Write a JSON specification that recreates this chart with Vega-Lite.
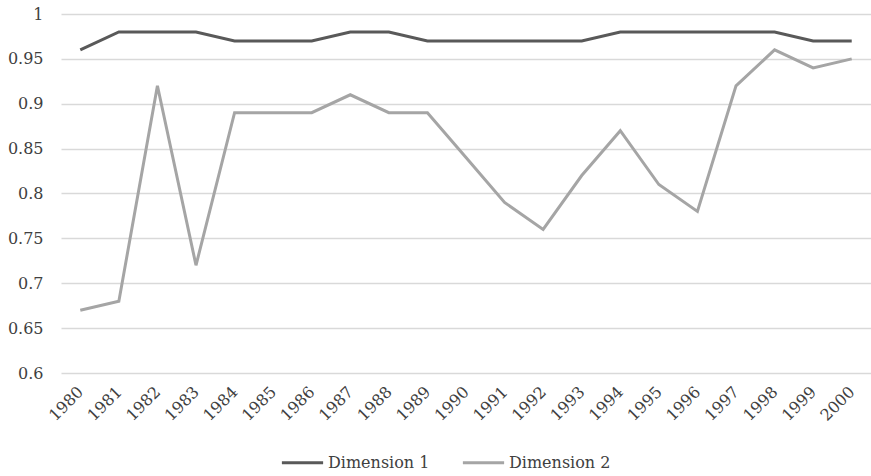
{
  "$schema": "https://vega.github.io/schema/vega-lite/v6.json",
  "width": 810,
  "height": 359,
  "autosize": "none",
  "padding": {"left": 61, "top": 14, "right": 0, "bottom": 103},
  "background": "white",
  "config": {
    "view": {"stroke": null},
    "font": "DejaVu Serif",
    "axis": {"labelFont": "DejaVu Serif", "labelColor": "#404040", "labelFontSize": 16},
    "legend": {"labelFont": "DejaVu Serif"}
  },
  "data": {
    "values": [
      {"year": "1980", "series": "Dimension 1", "value": 0.96},
      {"year": "1981", "series": "Dimension 1", "value": 0.98},
      {"year": "1982", "series": "Dimension 1", "value": 0.98},
      {"year": "1983", "series": "Dimension 1", "value": 0.98},
      {"year": "1984", "series": "Dimension 1", "value": 0.97},
      {"year": "1985", "series": "Dimension 1", "value": 0.97},
      {"year": "1986", "series": "Dimension 1", "value": 0.97},
      {"year": "1987", "series": "Dimension 1", "value": 0.98},
      {"year": "1988", "series": "Dimension 1", "value": 0.98},
      {"year": "1989", "series": "Dimension 1", "value": 0.97},
      {"year": "1990", "series": "Dimension 1", "value": 0.97},
      {"year": "1991", "series": "Dimension 1", "value": 0.97},
      {"year": "1992", "series": "Dimension 1", "value": 0.97},
      {"year": "1993", "series": "Dimension 1", "value": 0.97},
      {"year": "1994", "series": "Dimension 1", "value": 0.98},
      {"year": "1995", "series": "Dimension 1", "value": 0.98},
      {"year": "1996", "series": "Dimension 1", "value": 0.98},
      {"year": "1997", "series": "Dimension 1", "value": 0.98},
      {"year": "1998", "series": "Dimension 1", "value": 0.98},
      {"year": "1999", "series": "Dimension 1", "value": 0.97},
      {"year": "2000", "series": "Dimension 1", "value": 0.97},
      {"year": "1980", "series": "Dimension 2", "value": 0.67},
      {"year": "1981", "series": "Dimension 2", "value": 0.68},
      {"year": "1982", "series": "Dimension 2", "value": 0.92},
      {"year": "1983", "series": "Dimension 2", "value": 0.72},
      {"year": "1984", "series": "Dimension 2", "value": 0.89},
      {"year": "1985", "series": "Dimension 2", "value": 0.89},
      {"year": "1986", "series": "Dimension 2", "value": 0.89},
      {"year": "1987", "series": "Dimension 2", "value": 0.91},
      {"year": "1988", "series": "Dimension 2", "value": 0.89},
      {"year": "1989", "series": "Dimension 2", "value": 0.89},
      {"year": "1990", "series": "Dimension 2", "value": 0.84},
      {"year": "1991", "series": "Dimension 2", "value": 0.79},
      {"year": "1992", "series": "Dimension 2", "value": 0.76},
      {"year": "1993", "series": "Dimension 2", "value": 0.82},
      {"year": "1994", "series": "Dimension 2", "value": 0.87},
      {"year": "1995", "series": "Dimension 2", "value": 0.81},
      {"year": "1996", "series": "Dimension 2", "value": 0.78},
      {"year": "1997", "series": "Dimension 2", "value": 0.92},
      {"year": "1998", "series": "Dimension 2", "value": 0.96},
      {"year": "1999", "series": "Dimension 2", "value": 0.94},
      {"year": "2000", "series": "Dimension 2", "value": 0.95}
    ]
  },
  "mark": {"type": "line", "strokeWidth": 3, "strokeJoin": "miter"},
  "encoding": {
    "x": {
      "field": "year", "type": "ordinal",
      "scale": {"type": "point", "padding": 0.5},
      "axis": {"title": null, "labelAngle": -45, "labelAlign": "right", "labelBaseline": "middle", "ticks": false, "domain": false, "grid": false, "labelPadding": 16}
    },
    "y": {
      "field": "value", "type": "quantitative",
      "scale": {"domain": [0.6, 1], "nice": false, "zero": false},
      "axis": {"title": null, "values": [0.6, 0.65, 0.7, 0.75, 0.8, 0.85, 0.9, 0.95, 1], "format": "~g", "ticks": false, "domain": false, "gridColor": "#D9D9D9", "gridWidth": 1.5, "labelPadding": 18}
    },
    "color": {
      "field": "series", "type": "nominal",
      "scale": {"domain": ["Dimension 1", "Dimension 2"], "range": ["#595959", "#A5A5A5"]},
      "legend": {"title": null, "orient": "none", "direction": "horizontal", "legendX": 219, "legendY": 426, "symbolType": "stroke", "symbolSize": 1700, "symbolStrokeWidth": 3, "labelFontSize": 16, "labelColor": "#404040", "columnPadding": 26, "labelOffset": 3}
    }
  }
}
